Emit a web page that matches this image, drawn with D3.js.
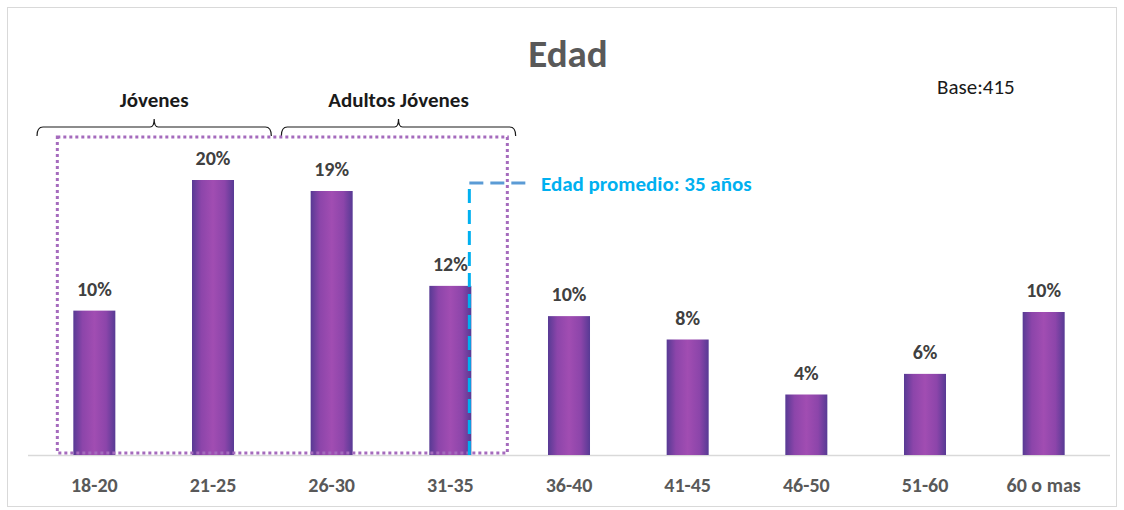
<!DOCTYPE html>
<html>
<head>
<meta charset="utf-8">
<script src="https://cdn.jsdelivr.net/npm/d3@7"></script>
<style>
  body { margin: 0; background: #fff; }
  text { font-family: Calibri, Carlito, "Open Sans", "Liberation Sans", sans-serif; }
</style>
</head>
<body>
<svg></svg>
<script>
var width = 1124,
    height = 510;

// data
var categories = ["18-20", "21-25", "26-30", "31-35", "36-40", "41-45", "46-50", "51-60", "60 o mas"];
var values = [10.5, 20.0, 19.2, 12.3, 10.1, 8.4, 4.4, 5.9, 10.4];
var valueLabels = ["10%", "20%", "19%", "12%", "10%", "8%", "4%", "6%", "10%"];
var groups = [
    {name: "Jóvenes", from: "18-20", to: "21-25"},
    {name: "Adultos Jóvenes", from: "26-30", to: "31-35"}
];
var averageLabel = "Edad promedio: 35 años";

var svg = d3.select("svg")
    .attr("width", width)
    .attr("height", height);

var x = d3.scaleBand()
    .domain(categories)
    .range([35, 1103])
    .paddingInner(0.646)
    .paddingOuter(0.323);

var y = d3.scaleLinear()
    .domain([0, 20])
    .range([455, 180]);

// gradient for bars
var grad = svg.append("defs").append("linearGradient")
    .attr("id", "barGrad")
    .attr("x1", "0%").attr("x2", "100%")
    .attr("y1", "0%").attr("y2", "0%");
[[0, "#573a94"], [0.22, "#8c45aa"], [0.5, "#a14db2"], [0.78, "#8c45aa"], [1, "#573a94"]].forEach(function(s) {
    grad.append("stop").attr("offset", s[0]).attr("stop-color", s[1]);
});

// frame
svg.append("rect")
    .attr("x", 7.5).attr("y", 7.5)
    .attr("width", 1109).attr("height", 499)
    .attr("fill", "none")
    .attr("stroke", "#d9d9d9");

// title
svg.append("text")
    .attr("x", 568).attr("y", 67)
    .attr("text-anchor", "middle")
    .attr("font-size", 39)
    .attr("font-weight", "bold")
    .attr("fill", "#595959")
    .text("Edad");

svg.append("text")
    .attr("x", 937).attr("y", 94)
    .attr("font-size", 21)
    .attr("fill", "#1a1a1a")
    .text("Base:415");

// axis baseline
svg.append("line")
    .attr("x1", 28).attr("x2", 1110)
    .attr("y1", y(0) + 0.5).attr("y2", y(0) + 0.5)
    .attr("stroke", "#d9d9d9")
    .attr("stroke-width", 1.5);

// bars
svg.selectAll(".bar")
    .data(values)
    .enter()
    .append("rect")
    .attr("class", "bar")
    .attr("x", function(d, i) { return x(categories[i]); })
    .attr("y", function(d) { return y(d); })
    .attr("width", x.bandwidth())
    .attr("height", function(d) { return y(0) - y(d); })
    .attr("fill", "url(#barGrad)");

// value labels
svg.selectAll(".val")
    .data(values)
    .enter()
    .append("text")
    .attr("x", function(d, i) { return x(categories[i]) + x.bandwidth() / 2; })
    .attr("y", function(d) { return y(d) - 15; })
    .attr("text-anchor", "middle")
    .attr("font-size", 20)
    .attr("font-weight", "bold")
    .attr("fill", "#404040")
    .text(function(d, i) { return valueLabels[i]; });

// category labels
svg.selectAll(".cat")
    .data(categories)
    .enter()
    .append("text")
    .attr("x", function(d) { return x(d) + x.bandwidth() / 2; })
    .attr("y", 492)
    .attr("text-anchor", "middle")
    .attr("font-size", 20)
    .attr("font-weight", "bold")
    .attr("fill", "#595959")
    .text(function(d) { return d; });

// group brackets
var step = x.step();
groups.forEach(function(g, gi) {
    var x0 = x(g.from) - step * x.paddingOuter() + (gi == 0 ? 2 : 9),
        x1 = x(g.to) + x.bandwidth() + step * x.paddingInner() / 2 - (gi == 0 ? 1 : -6),
        xm = (x0 + x1) / 2,
        by = 127;
    svg.append("path")
        .attr("d", "M" + x0 + "," + (by + 9) + " Q" + x0 + "," + by + " " + (x0 + 6) + "," + by +
            " L" + (xm - 4) + "," + by + " Q" + xm + "," + by + " " + xm + "," + (by - 8) +
            " Q" + xm + "," + by + " " + (xm + 4) + "," + by +
            " L" + (x1 - 6) + "," + by + " Q" + x1 + "," + by + " " + x1 + "," + (by + 9))
        .attr("fill", "none")
        .attr("stroke", "#1a1a1a")
        .attr("stroke-width", 1.2);
    svg.append("text")
        .attr("x", xm).attr("y", 107)
        .attr("text-anchor", "middle")
        .attr("font-size", 21)
        .attr("font-weight", "bold")
        .attr("fill", "#1a1a1a")
        .text(g.name);
});

// dotted box around first four bars
var boxX0 = x("18-20") - 16,
    boxX1 = x("31-35") + x.bandwidth() + 36;
svg.append("rect")
    .attr("x", boxX0).attr("y", 137)
    .attr("width", boxX1 - boxX0)
    .attr("height", y(0) - 2 - 137)
    .attr("fill", "none")
    .attr("stroke", "#a56bbd")
    .attr("stroke-width", 3)
    .attr("stroke-dasharray", "3,3");

// average line
var avgX = x("31-35") + x.bandwidth() - 2;
svg.append("line")
    .attr("x1", avgX).attr("x2", avgX)
    .attr("y1", y(0)).attr("y2", 183)
    .attr("stroke", "#00b0f0")
    .attr("stroke-width", 3)
    .attr("stroke-dasharray", "14,7");
svg.append("line")
    .attr("x1", avgX).attr("x2", 531)
    .attr("y1", 183).attr("y2", 183)
    .attr("stroke", "#5b9bd5")
    .attr("stroke-width", 3)
    .attr("stroke-dasharray", "14,7");
svg.append("text")
    .attr("x", 541).attr("y", 191)
    .attr("font-size", 21)
    .attr("font-weight", "bold")
    .attr("fill", "#00b0f0")
    .text(averageLabel);
</script>
</body>
</html>
